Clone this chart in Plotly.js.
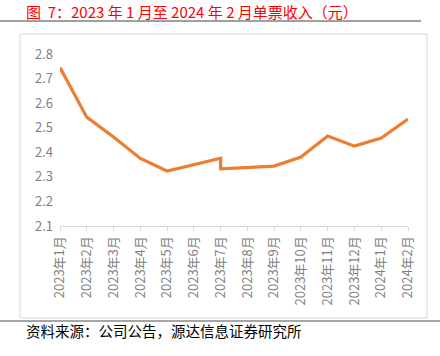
<!DOCTYPE html>
<html><head><meta charset="utf-8">
<script src="https://cdn.plot.ly/plotly-3.0.1.min.js"></script>
<style>html,body{margin:0;padding:0;background:#fff}#c{width:440px;height:356px}</style>
</head><body><div id="c"></div>
<script>
// Categories (July appears twice: the source line drops vertically at 2023年7月)
const months = ['2023年1月','2023年2月','2023年3月','2023年4月','2023年5月','2023年6月','2023年7月','2023年7月','2023年8月','2023年9月','2023年10月','2023年11月','2023年12月','2024年1月','2024年2月'];
const revenuePerTicket = [2.745, 2.543, 2.462, 2.375, 2.324, 2.349, 2.376, 2.333, 2.338, 2.344, 2.381, 2.466, 2.425, 2.458, 2.535];
const tickLabels = ['2023年1月','2023年2月','2023年3月','2023年4月','2023年5月','2023年6月','2023年7月','2023年8月','2023年9月','2023年10月','2023年11月','2023年12月','2024年1月','2024年2月'];
const yTicks = [2.1, 2.2, 2.3, 2.4, 2.5, 2.6, 2.7, 2.8];
const titleText = '图\u00a0\u00a07：2023\u00a0年\u00a01\u00a0月至\u00a02024\u00a0年\u00a02\u00a0月单票收入（元）';
const sourceText = '资料来源：公司公告，源达信息证券研究所';

const F = '"Noto Sans CJK SC", "Noto Sans", sans-serif';
const trace = {
  x: months, y: revenuePerTicket, type: 'scatter', mode: 'lines',
  line: {color: '#ED7D31', width: 3.2}, hoverinfo: 'skip'
};
const layout = {
  width: 440, height: 356,
  margin: {l: 60, r: 32, t: 54, b: 130},
  paper_bgcolor: '#fff', plot_bgcolor: '#fff',
  showlegend: false,
  xaxis: {
    type: 'category', categoryorder: 'array', categoryarray: tickLabels,
    range: [0, 13], tickvals: tickLabels, ticktext: tickLabels,
    tickangle: -90, showgrid: false, zeroline: false,
    showline: true, linecolor: '#d9d9d9', linewidth: 1,
    ticks: 'outside', ticklen: 4, tickcolor: '#d9d9d9',
    tickfont: {family: F, size: 13, color: '#7f7f7f'}, fixedrange: true
  },
  yaxis: {
    range: [2.1, 2.8], tickvals: yTicks, ticktext: yTicks.map(v => v.toFixed(1)),
    showgrid: false, zeroline: false, showline: false, ticks: '',
    tickfont: {family: F, size: 13, color: '#7f7f7f'}, ticklabelstandoff: 6, fixedrange: true
  },
  shapes: [
    {type: 'line', xref: 'paper', yref: 'paper', x0: -60/348, x1: 361/348, y0: 1 + 33/172, y1: 1 + 33/172,
     line: {color: '#404040', width: 1}},
    {type: 'rect', xref: 'paper', yref: 'paper', x0: -40/348, x1: 367/348, y0: 1 + 20/172, y1: -92/172,
     line: {color: '#d9d9d9', width: 1}},
    {type: 'line', xref: 'paper', yref: 'paper', x0: -60/348, x1: 380/348, y0: -95/172, y1: -95/172,
     line: {color: '#a6a6a6', width: 2}}
  ],
  annotations: [
    {text: titleText, xref: 'paper', yref: 'paper', x: -36/348, y: 1 + 42.5/172, xanchor: 'left', yanchor: 'middle',
     showarrow: false, font: {family: F, size: 15, color: '#ff0000'}},
    {text: sourceText, xref: 'paper', yref: 'paper', x: -36/348, y: -104/172, xanchor: 'left', yanchor: 'middle',
     showarrow: false, font: {family: F, size: 14.5, color: '#000'}}
  ]
};
Plotly.newPlot('c', [trace], layout, {displayModeBar: false, staticPlot: true});
</script></body></html>
